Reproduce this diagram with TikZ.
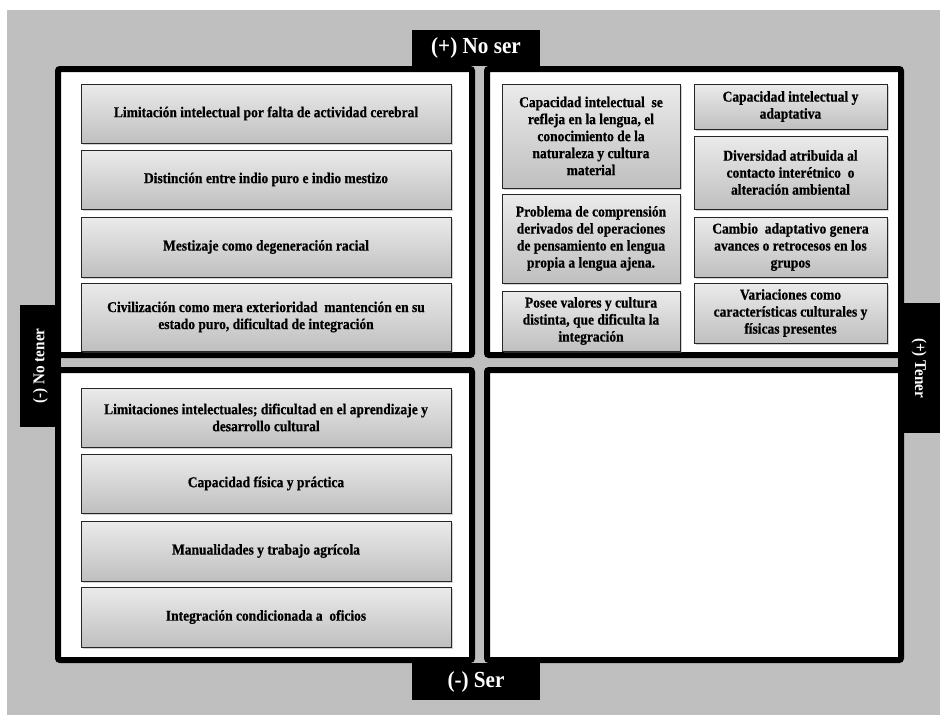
\documentclass[tikz,border=0pt]{standalone}
\usepackage{fontspec}
\setmainfont{Liberation Serif}
\newfontfamily\narrowserif[FakeStretch=0.9,FakeBold=0.6]{Liberation Serif}
\newfontfamily\tabserif[FakeStretch=0.92]{Liberation Serif}
\usetikzlibrary{shadows}
\definecolor{bggray}{RGB}{191,191,191}

\begin{document}
\begin{tikzpicture}[x=1pt,y=-1pt,
    cell/.style={draw=black!85, line width=0.8pt, top color=black!8, bottom color=black!25,
      drop shadow={shadow xshift=1.5pt, shadow yshift=-1.5pt, opacity=0.35},
      align=center, inner sep=2pt, font=\narrowserif\bfseries\fontsize{15}{17}\selectfont},
    frame/.style={draw=black, line width=6pt, fill=white, rounded corners=2pt},
    tab/.style={fill=black, text=white, inner sep=0pt, font=\tabserif\bfseries\fontsize{23}{24}\selectfont},
    sidetab/.style={tab, font=\tabserif\bfseries\fontsize{16.5}{17}\selectfont}]
    \useasboundingbox (0,0) rectangle (940,715);
    \fill[bggray] (7,10) rectangle (940,715);
    % Quadrants
    \draw[frame] (58,69) rectangle (472,355);
    \draw[frame] (487,69) rectangle (901,355);
    \draw[frame] (58,370) rectangle (472,660);
    \draw[frame] (487,370) rectangle (901,660);
    % Axis labels
    \node[tab, minimum width=128pt, minimum height=36pt] (noser) at (476,48) {(+) No ser};
    \node[tab, minimum width=128pt, minimum height=37pt] (ser) at (476,681.5) {(-) Ser};
    \node[sidetab, rotate=90, minimum width=122pt, minimum height=41pt] (notener) at (40.5,366) {(-) No tener};
    \node[sidetab, rotate=-90, minimum width=130pt, minimum height=42pt] (tener) at (919,368) {(+) Tener};
    % (+) No ser / (-) No tener
    \node[cell, minimum width=370pt, minimum height=59pt] (lim) at (266,113.5)
      {Limitación intelectual por falta de actividad cerebral};
    \node[cell, minimum width=370pt, minimum height=59pt] (dist) at (266,179.5)
      {Distinción entre indio puro e indio mestizo};
    \node[cell, minimum width=370pt, minimum height=60pt] (mest) at (266,247)
      {Mestizaje como degeneración racial};
    \node[cell, minimum width=370pt, minimum height=68pt] (civ) at (266,317)
      {Civilización como mera exterioridad \ mantención en su\\estado puro, dificultad de integración};
    % (+) No ser / (+) Tener
    \node[cell, minimum width=178pt, minimum height=104pt] (capint) at (591,136)
      {Capacidad intelectual \ se\\refleja en la lengua, el\\conocimiento de la\\naturaleza y cultura\\material};
    \node[cell, minimum width=178pt, minimum height=89pt] (probl) at (591,238.5)
      {Problema de comprensión\\derivados del operaciones\\de pensamiento en lengua\\propia a lengua ajena.};
    \node[cell, minimum width=178pt, minimum height=60pt] (posee) at (591,321)
      {Posee valores y cultura\\distinta, que dificulta la\\integración};
    \node[cell, minimum width=193pt, minimum height=45pt] (capad) at (790.5,106.5)
      {Capacidad intelectual y\\adaptativa};
    \node[cell, minimum width=193pt, minimum height=73pt] (diver) at (790.5,172.5)
      {Diversidad atribuida al\\contacto interétnico \ o\\alteración ambiental};
    \node[cell, minimum width=193pt, minimum height=60pt] (cambio) at (790.5,247)
      {Cambio \ adaptativo genera\\avances o retrocesos en los\\grupos};
    \node[cell, minimum width=193pt, minimum height=60pt] (variac) at (790.5,313)
      {Variaciones como\\características culturales y\\físicas presentes};
    % (-) Ser / (-) No tener
    \node[cell, minimum width=370pt, minimum height=59pt] (limit) at (266,417.5)
      {Limitaciones intelectuales; dificultad en el aprendizaje y\\desarrollo cultural};
    \node[cell, minimum width=370pt, minimum height=59pt] (capfis) at (266,483.5)
      {Capacidad física y práctica};
    \node[cell, minimum width=370pt, minimum height=60pt] (manual) at (266,551)
      {Manualidades y trabajo agrícola};
    \node[cell, minimum width=370pt, minimum height=60pt] (integ) at (266,617)
      {Integración condicionada a \ oficios};
\end{tikzpicture}
\end{document}
